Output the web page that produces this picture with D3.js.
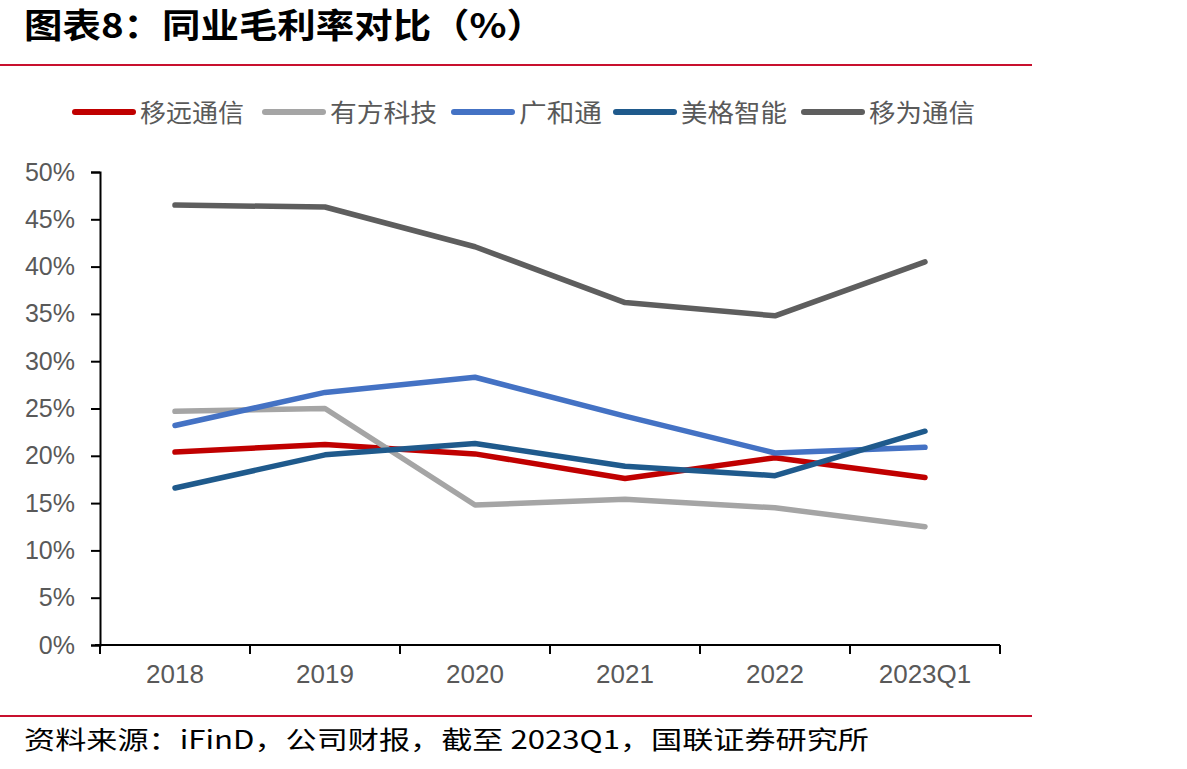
<!DOCTYPE html>
<html lang="zh">
<head>
<meta charset="UTF-8">
<title>同业毛利率对比</title>
<script src="https://cdn.jsdelivr.net/npm/d3@7/dist/d3.min.js"></script>
<style>
  body { margin: 0; background: #fff; }
  text { font-family: "Liberation Sans", Arial, "Noto Sans CJK SC", sans-serif; }
</style>
</head>
<body>
<script>
  const W = 1187, H = 769;

  // 数据
  const categories = ["2018", "2019", "2020", "2021", "2022", "2023Q1"];
  const seriesNames = ["移远通信", "有方科技", "广和通", "美格智能", "移为通信"];
  const yiyuan = [20.4, 21.2, 20.2, 17.6, 19.8, 17.7];
  const youfang = [24.7, 25.0, 14.8, 15.4, 14.5, 12.5];
  const guanghetong = [23.2, 26.7, 28.3, 24.2, 20.3, 20.9];
  const meige = [16.6, 20.1, 21.3, 18.9, 17.9, 22.6];
  const yiwei = [46.5, 46.3, 42.1, 36.2, 34.8, 40.5];
  const yTicks = [0, 5, 10, 15, 20, 25, 30, 35, 40, 45, 50];
  const colors = ["#c00000", "#a5a5a5", "#4472c4", "#1f5a8c", "#5e5e5e"];
  const allSeries = [yiyuan, youfang, guanghetong, meige, yiwei];

  const svg = d3.select("body").append("svg").attr("width", W).attr("height", H);

  // 标题
  svg.append("text").attr("x", 24).attr("y", 38)
    .attr("font-size", 34).attr("font-weight", "bold").attr("fill", "#000")
    .attr("textLength", 521).attr("lengthAdjust", "spacingAndGlyphs")
    .style("font-family", "'Noto Sans CJK SC', sans-serif")
    .text("图表8：同业毛利率对比（%）");
  svg.append("line").attr("x1", 0).attr("x2", 1032).attr("y1", 65).attr("y2", 65)
    .attr("stroke", "#c8102e").attr("stroke-width", 2);

  // 比例尺
  const x = d3.scaleBand().domain(categories).range([100, 1000]);
  const y = d3.scaleLinear().domain([0, 50]).range([645, 172]);

  // y 轴
  const yAxis = svg.append("g").attr("transform", "translate(100,0)")
    .call(d3.axisLeft(y).tickValues(yTicks).tickSize(9).tickPadding(16).tickFormat(d => d + "%"));
  yAxis.select(".domain").attr("stroke", "#000").attr("stroke-width", 2);
  yAxis.selectAll(".tick line").attr("stroke", "#000").attr("stroke-width", 2);
  yAxis.selectAll(".tick text").attr("font-size", 25).attr("fill", "#595959")
    .style("font-family", "'Liberation Sans', Arial, sans-serif");

  // x 轴
  const xAxis = svg.append("g").attr("transform", "translate(0,645)")
    .call(d3.axisBottom(x).tickSize(0).tickPadding(20));
  xAxis.select(".domain").attr("stroke", "#000").attr("stroke-width", 2)
    .attr("d", "M95,0H1000");
  xAxis.selectAll(".tick text").attr("font-size", 26).attr("fill", "#595959")
    .style("font-family", "'Liberation Sans', Arial, sans-serif");
  const edges = categories.map(c => x(c)).concat([x.range()[1]]);
  svg.append("g").selectAll("line").data(edges).enter().append("line")
    .attr("x1", d => d).attr("x2", d => d).attr("y1", 645).attr("y2", 654)
    .attr("stroke", "#000").attr("stroke-width", 2);

  // 折线
  const line = d3.line()
    .x((d, i) => x(categories[i]) + x.bandwidth() / 2)
    .y(d => y(d));
  svg.append("g").selectAll("path").data(allSeries).enter().append("path")
    .attr("d", d => line(d))
    .attr("fill", "none")
    .attr("stroke", (d, i) => colors[i])
    .attr("stroke-width", 5.5)
    .attr("stroke-linecap", "round")
    .attr("stroke-linejoin", "round");

  // 图例
  const legendX = [75, 265, 454, 616, 804];
  const legendLen = [104, 107, 83, 106, 106];
  const legend = svg.append("g").selectAll("g").data(seriesNames).enter().append("g")
    .attr("transform", (d, i) => "translate(" + legendX[i] + ",112)");
  legend.append("line").attr("x1", 0).attr("x2", 58).attr("y1", 0).attr("y2", 0)
    .attr("stroke", (d, i) => colors[i]).attr("stroke-width", 6).attr("stroke-linecap", "round");
  legend.append("text").attr("x", 65).attr("y", 10).attr("font-size", 25).attr("fill", "#595959")
    .attr("textLength", (d, i) => legendLen[i]).attr("lengthAdjust", "spacingAndGlyphs")
    .style("font-family", "'Noto Sans CJK SC', sans-serif")
    .text(d => d);

  // 来源
  svg.append("line").attr("x1", 0).attr("x2", 1032).attr("y1", 716).attr("y2", 716)
    .attr("stroke", "#c8102e").attr("stroke-width", 2);
  svg.append("text").attr("x", 24).attr("y", 749).attr("font-size", 25).attr("fill", "#000")
    .attr("textLength", 845).attr("lengthAdjust", "spacingAndGlyphs")
    .style("font-family", "'Noto Sans CJK SC', sans-serif")
    .text("资料来源：iFinD，公司财报，截至 2023Q1，国联证券研究所");
</script>
</body>
</html>
